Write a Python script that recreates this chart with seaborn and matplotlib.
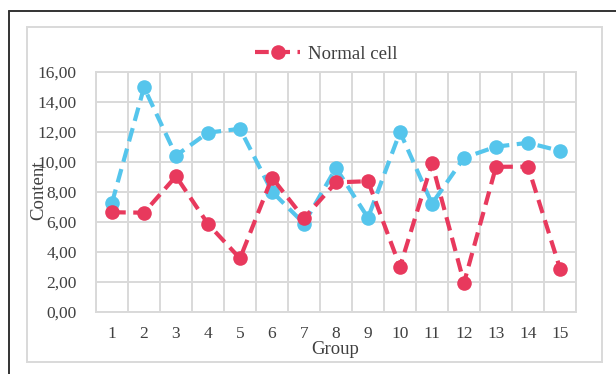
import numpy as np
import pandas as pd
import seaborn as sns
import matplotlib
matplotlib.use("Agg")
import matplotlib.pyplot as plt
from matplotlib.patches import Rectangle
from matplotlib.lines import Line2D

groups = list(range(1, 16))
normal_cell = [6.65, 6.62, 9.05, 5.87, 3.57, 8.95, 6.25, 8.64, 8.72, 3.02, 9.91, 1.95, 9.68, 9.69, 2.9]
other_cell = [7.28, 14.97, 10.43, 11.96, 12.21, 8.02, 5.9, 9.6, 6.28, 12.0, 7.22, 10.28, 11.02, 11.28, 10.74]
y_ticks = [0, 2, 4, 6, 8, 10, 12, 14, 16]
y_tick_labels = ["0,00", "2,00", "4,00", "6,00", "8,00", "10,00", "12,00", "14,00", "16,00"]

RED = "#E8395D"
BLUE = "#55C5EC"
GRID = "#D9D9D9"

sns.set_theme(style="white")
plt.rcParams["font.family"] = ["Liberation Serif", "DejaVu Serif"]

W, H = 616, 374
fig = plt.figure(figsize=(W / 100, H / 100), dpi=100)
ax = fig.add_axes([96 / W, 1 - 312 / H, 480 / W, 240 / H])

df_blue = pd.DataFrame({"Group": groups, "Content": other_cell})
df_red = pd.DataFrame({"Group": groups, "Content": normal_cell})

common = dict(linewidth=3.0, marker="o", markersize=10.5, markeredgewidth=0)
sns.lineplot(data=df_blue, x="Group", y="Content", ax=ax, color=BLUE,
             dashes=False, linestyle=(0, (3.3, 1.8)), label="_other", zorder=3, **common)
sns.lineplot(data=df_red, x="Group", y="Content", ax=ax, color=RED,
             dashes=False, linestyle=(0, (3.3, 1.8)), label="Normal cell", zorder=4, **common)

ax.set_xlim(0.5, 15.5)
ax.set_ylim(0, 16)
ax.set_xticks(groups)
ax.set_xticklabels([str(g) for g in groups])
ax.set_xticks(np.arange(0.5, 16, 1.0), minor=True)
ax.set_yticks(y_ticks)
ax.set_yticklabels(y_tick_labels)
ax.grid(False)
ax.grid(True, which="minor", axis="x", color=GRID, linewidth=1.4)
ax.grid(True, which="major", axis="y", color=GRID, linewidth=1.4)
ax.set_axisbelow(True)
ax.tick_params(axis="both", which="both", length=0, labelsize=12.5, colors="#404040")
ax.tick_params(axis="x", pad=10)
ax.tick_params(axis="y", pad=14)
for s in ax.spines.values():
    s.set_color(GRID)
    s.set_linewidth(1.4)

ax.set_xlabel("Group", fontsize=13.5, color="#404040")
ax.set_ylabel("Content", fontsize=13.5, color="#404040")
ax.xaxis.set_label_coords((335 - 96) / 480, (312 - 350) / 240)
ax.yaxis.set_label_coords((39 - 96) / 480, (312 - 190) / 240)
ax.xaxis.label.set_va("center")
ax.yaxis.label.set_va("center")

if ax.get_legend():
    ax.get_legend().remove()
handles, labels = ax.get_legend_handles_labels()
fig.legend(handles, labels, loc="center", bbox_to_anchor=(326 / W, 1 - 54 / H),
           frameon=False, fontsize=13.5, handlelength=2.4, handletextpad=0.4,
           labelcolor="#404040")

# outer borders
fig.add_artist(Rectangle((27 / W, 1 - 362 / H), (602 - 27) / W, (362 - 27) / H,
                         transform=fig.transFigure, fill=False, edgecolor=GRID, linewidth=1.4))
fig.add_artist(Line2D([8.5 / W, 1.0], [1 - 10.5 / H, 1 - 10.5 / H], transform=fig.transFigure,
                      color="#333333", linewidth=1.4))
fig.add_artist(Line2D([8.5 / W, 8.5 / W], [0, 1 - 10.5 / H], transform=fig.transFigure,
                      color="#333333", linewidth=1.4))

fig.savefig("out.png", dpi=100, facecolor="white")
